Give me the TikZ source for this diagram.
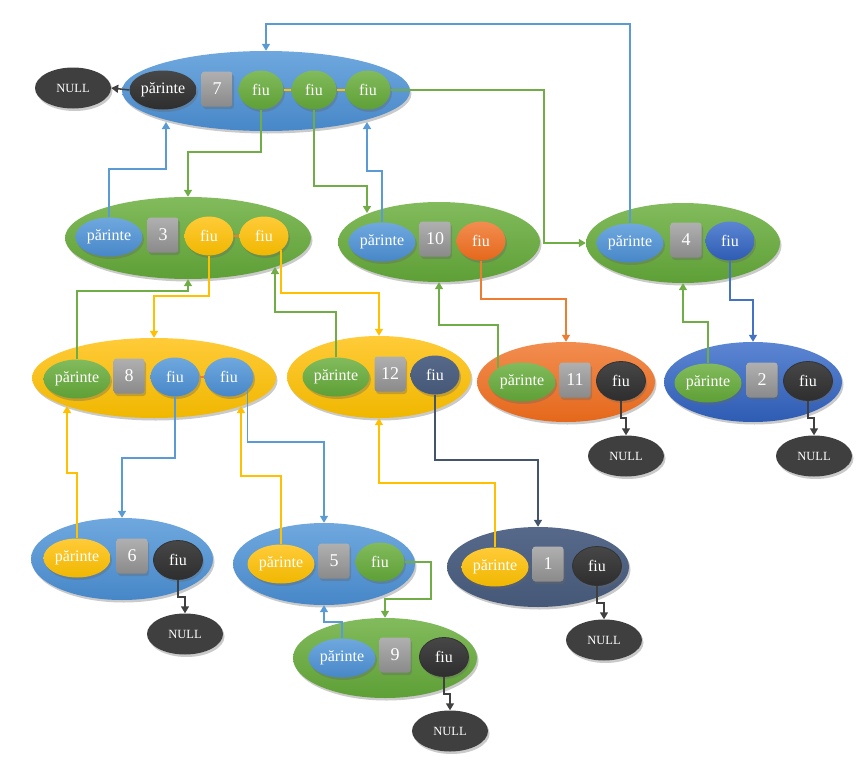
\documentclass[tikz,border=0pt]{standalone}
\usepackage{fontspec}
\setmainfont{Liberation Serif}
\usetikzlibrary{shapes.geometric,shadows,arrows.meta}
\definecolor{blueT}{HTML}{6FA8DE}
\definecolor{blueB}{HTML}{4787C8}
\definecolor{greenT}{HTML}{82BB5C}
\definecolor{greenB}{HTML}{5E9F36}
\definecolor{yellT}{HTML}{FFCB38}
\definecolor{yellB}{HTML}{F0B700}
\definecolor{orT}{HTML}{F28D50}
\definecolor{orB}{HTML}{E5681B}
\definecolor{dbT}{HTML}{5C86D3}
\definecolor{dbB}{HTML}{2E5CB3}
\definecolor{slT}{HTML}{57698A}
\definecolor{slB}{HTML}{465877}
\definecolor{dkT}{HTML}{474747}
\definecolor{dkB}{HTML}{2E2E2E}
\definecolor{grT}{HTML}{B0B0B0}
\definecolor{grB}{HTML}{8A8A8A}
\definecolor{nullc}{HTML}{3F3F3F}
\definecolor{lBlue}{HTML}{5B9BD5}
\definecolor{lGreen}{HTML}{70AD47}
\definecolor{lYell}{HTML}{FFC000}
\definecolor{lOr}{HTML}{ED7D31}
\definecolor{lDb}{HTML}{4472C4}
\definecolor{lSl}{HTML}{44546A}
\definecolor{lDk}{HTML}{404040}
\tikzset{
  shad/.style={drop shadow={shadow xshift=1.5pt,shadow yshift=-2.5pt,opacity=0.35,fill=black!60}},
  big/.style={ellipse,inner sep=0pt,shad},
  parbox/.style={ellipse,inner sep=0pt,minimum width=67pt,minimum height=39pt,text=white,font=\fontsize{16}{16}\selectfont,shad},
  fiubox/.style={ellipse,inner sep=0pt,minimum width=49pt,minimum height=39pt,text=white,font=\fontsize{16}{16}\selectfont,shad},
  sqbox/.style={rectangle,rounded corners=3pt,inner sep=0pt,minimum width=31pt,minimum height=35pt,top color=grT,bottom color=grB,text=white,font=\fontsize{18}{18}\selectfont,shad},
  nullbox/.style={ellipse,inner sep=0pt,minimum width=76pt,minimum height=41pt,fill=nullc,text=white,font=\fontsize{12.5}{12.5}\selectfont,shad},
  cBlue/.style={top color=blueT,bottom color=blueB},
  cGreen/.style={top color=greenT,bottom color=greenB},
  cYell/.style={top color=yellT,bottom color=yellB},
  cOr/.style={top color=orT,bottom color=orB},
  cDb/.style={top color=dbT,bottom color=dbB},
  cSl/.style={top color=slT,bottom color=slB},
  cDk/.style={top color=dkT,bottom color=dkB},
  cDkb/.style={top color=dkT,bottom color=dkB,draw=black!80,line width=0.8pt},
  con/.style={line width=1.5pt,-{Triangle[length=7pt,width=8pt]}},
  link/.style={line width=1.5pt},
}
\begin{document}
\begin{tikzpicture}[x=1pt,y=-1pt]
\useasboundingbox (0,0) rectangle (860,771);
% ---- node 7
\node[big,cBlue,minimum width=288pt,minimum height=80pt] (n7) at (266,91) {};
\node[parbox,cDk] (n7p) at (163,90) {părinte};
\node[sqbox] (n7s) at (217,89) {7};
\node[fiubox,cGreen,minimum width=45pt] (n7f1) at (261,90) {fiu};
\node[fiubox,cGreen,minimum width=45pt] (n7f2) at (314,90) {fiu};
\node[fiubox,cGreen,minimum width=45pt] (n7f3) at (368,90) {fiu};
\draw[link,lYell] (n7f1) -- (n7f2);
\draw[link,lYell] (n7f2) -- (n7f3);
\node[nullbox] (null7) at (73,88) {NULL};
% ---- node 3
\node[big,cGreen,minimum width=246pt,minimum height=82pt] (n3) at (188,238) {};
\node[parbox,cBlue] (n3p) at (109,237) {părinte};
\node[sqbox] (n3s) at (163,235) {3};
\node[fiubox,cYell] (n3f1) at (209,236) {fiu};
\node[fiubox,cYell] (n3f2) at (264,236) {fiu};
\draw[link,lOr] (n3f1) -- (n3f2);
% ---- node 10
\node[big,cGreen,minimum width=202pt,minimum height=80pt] (n10) at (439,242) {};
\node[parbox,cBlue] (n10p) at (382,242) {părinte};
\node[sqbox] (n10s) at (435,239) {10};
\node[fiubox,cOr] (n10f) at (481,241) {fiu};
% ---- node 4
\node[big,cGreen,minimum width=194pt,minimum height=80pt] (n4) at (683,243) {};
\node[parbox,cBlue] (n4p) at (630,243) {părinte};
\node[sqbox] (n4s) at (686,240) {4};
\node[fiubox,cDb] (n4f) at (730,241) {fiu};
% ---- node 8
\node[big,cYell,minimum width=244pt,minimum height=80pt] (n8) at (154,378) {};
\node[parbox,cGreen] (n8p) at (77,379) {părinte};
\node[sqbox] (n8s) at (129,376) {8};
\node[fiubox,cBlue] (n8f1) at (175,377) {fiu};
\node[fiubox,cBlue] (n8f2) at (229,377) {fiu};
\draw[link,lOr] (n8f1) -- (n8f2);
% ---- node 12
\node[big,cYell,minimum width=184pt,minimum height=82pt] (n12) at (379,377) {};
\node[parbox,cGreen] (n12p) at (336,377) {părinte};
\node[sqbox] (n12s) at (390,374) {12};
\node[fiubox,cSl] (n12f) at (435,375) {fiu};
% ---- node 11
\node[big,cOr,minimum width=178pt,minimum height=80pt] (n11) at (566,382) {};
\node[parbox,cGreen] (n11p) at (522,382) {părinte};
\node[sqbox] (n11s) at (575,380) {11};
\node[fiubox,cDkb] (n11f) at (621,381) {fiu};
\node[nullbox] (null11) at (626,456) {NULL};
% ---- node 2
\node[big,cDb,minimum width=178pt,minimum height=80pt] (n2) at (753,382) {};
\node[parbox,cGreen] (n2p) at (708,383) {părinte};
\node[sqbox] (n2s) at (762,380) {2};
\node[fiubox,cDkb] (n2f) at (808,381) {fiu};
\node[nullbox] (null2) at (814,456) {NULL};
% ---- node 6
\node[big,cBlue,minimum width=182pt,minimum height=82pt] (n6) at (122,559) {};
\node[parbox,cYell] (n6p) at (77,558) {părinte};
\node[sqbox] (n6s) at (132,556) {6};
\node[fiubox,cDkb] (n6f) at (178,560) {fiu};
\node[nullbox] (null6) at (185,634) {NULL};
% ---- node 5
\node[big,cBlue,minimum width=182pt,minimum height=82pt] (n5) at (324,564) {};
\node[parbox,cYell] (n5p) at (281,564) {părinte};
\node[sqbox] (n5s) at (334,561) {5};
\node[fiubox,cGreen] (n5f) at (380,562) {fiu};
% ---- node 9
\node[big,cGreen,minimum width=184pt,minimum height=80pt] (n9) at (385,658) {};
\node[parbox,cBlue] (n9p) at (342,658) {părinte};
\node[sqbox] (n9s) at (395,655) {9};
\node[fiubox,cDkb] (n9f) at (444,657) {fiu};
\node[nullbox] (null9) at (450,731) {NULL};
% ---- node 1
\node[big,cSl,minimum width=182pt,minimum height=80pt] (n1) at (538,567) {};
\node[parbox,cYell] (n1p) at (495,567) {părinte};
\node[sqbox] (n1s) at (548,564) {1};
\node[fiubox,cDkb] (n1f) at (597,566) {fiu};
\node[nullbox] (null1) at (604,640) {NULL};
% ---- endpoints on ellipse borders
\coordinate (n7b1) at (166,122);
\coordinate (n7b2) at (367,122);
\coordinate (n10t) at (367,213);
\coordinate (n3b2) at (275,267);
\coordinate (n8b1) at (67,406);
\coordinate (n8b2) at (241,406);
% ---- connectors
\draw[con,lDk] (n7p.west) -- (null7.east);
\draw[con,lGreen] (n7f1.south) -- (n7f1.south |- 0,152) -| (n3.north);
\draw[con,lGreen] (n7f2.south) -- (n7f2.south |- 0,186) -| (n10t);
\draw[con,lGreen] (n7f3.east) -- (544,90) |- (n4.west);
\draw[con,lBlue] (n4p.north) -- (n4p.north |- 0,24) -| (n7.north);
\draw[con,lBlue] (n3p.north) -- (n3p.north |- 0,169) -| (n7b1);
\draw[con,lBlue] (n10p.north) -- (n10p.north |- 0,171) -| (n7b2);
\draw[con,lYell] (n3f1.south) -- (n3f1.south |- 0,296) -| (n8.north);
\draw[con,lGreen] (n8p.north) -- (n8p.north |- 0,291) -| (n3.south);
\draw[con,lYell] (n3f2.-40) -- (n3f2.-40 |- 0,293) -| (n12.north);
\draw[con,lGreen] (n12p.north) -- (n12p.north |- 0,312) -| (n3b2);
\draw[con,lOr] (n10f.south) -- (n10f.south |- 0,299) -| (n11.north);
\draw[con,lGreen] (n11p.150) -- (n11p.150 |- 0,325) -| (n10.south);
\draw[con,lDb] (n4f.south) -- (n4f.south |- 0,300) -| (n2.north);
\draw[con,lGreen] (n2p.north) -- (n2p.north |- 0,322) -| (n4.south);
\draw[con,lDk] (n11f.south) -- (n11f.south |- 0,418) -| (null11.north);
\draw[con,lDk] (n2f.south) -- (n2f.south |- 0,418) -| (null2.north);
\draw[con,lBlue] (n8f1.south) -- (n8f1.south |- 0,458) -| (n6.north);
\draw[con,lYell] (n6p.north) -- (n6p.north |- 0,473) -| (n8b1);
\draw[con,lBlue] (n8f2.-35) -- (n8f2.-35 |- 0,442) -| (n5.north);
\draw[con,lYell] (n5p.north) -- (n5p.north |- 0,476) -| (n8b2);
\draw[con,lSl] (n12f.south) -- (n12f.south |- 0,460) -| (n1.north);
\draw[con,lYell] (n1p.north) -- (n1p.north |- 0,483) -| (n12.south);
\draw[con,lGreen] (n5f.east) -- (431,562) -- (431,599) -| (n9.north);
\draw[con,lBlue] (n9p.north) -- (n9p.north |- 0,622) -| (n5.south);
\draw[con,lDk] (n6f.south) -- (n6f.south |- 0,597) -| (null6.north);
\draw[con,lDk] (n9f.south) -- (n9f.south |- 0,694) -| (null9.north);
\draw[con,lDk] (n1f.south) -- (n1f.south |- 0,603) -| (null1.north);
\end{tikzpicture}
\end{document}
